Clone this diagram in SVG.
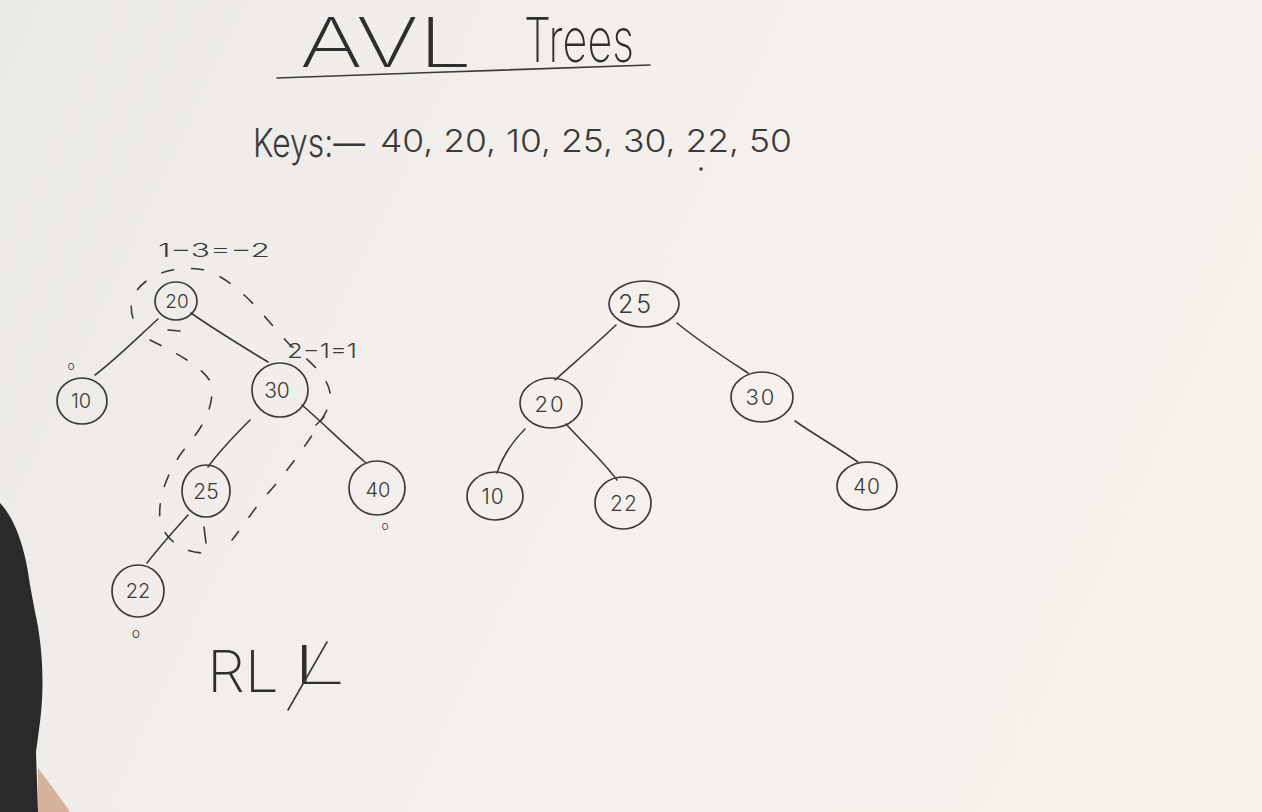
<svg xmlns="http://www.w3.org/2000/svg" width="1262" height="812" viewBox="0 0 1262 812">
<defs>
<linearGradient id="bg" x1="0" y1="0" x2="1" y2="0.3">
<stop offset="0" stop-color="#ebe9e6"/>
<stop offset="0.5" stop-color="#f3f0ec"/>
<stop offset="1" stop-color="#f7f2ec"/>
</linearGradient>
<style>
.ink{fill:none;stroke:#3a3a3a;stroke-width:1.6;stroke-linecap:round;stroke-linejoin:round}
.node{fill:none;stroke:#3a3a3a;stroke-width:1.7}
.dash{fill:none;stroke:#3a3a3a;stroke-width:1.6;stroke-linecap:round;stroke-dasharray:12 18}
.lbl{font-family:Inter,"Liberation Sans",sans-serif;font-weight:300;fill:#3a3a3a;text-anchor:middle}
.note{font-family:Inter,"Liberation Sans",sans-serif;font-weight:300;fill:#3a3a3a}
.hand{font-family:Inter,"Liberation Sans",sans-serif;font-weight:200;fill:#2e2e2e}
</style>
</defs>
<rect width="1262" height="812" fill="url(#bg)"/>
<!-- person at the left edge -->
<path d="M0,503 C14,518 25,545 30,585 L35,612 C42,642 45,682 40,722 L36,752 L38,812 L0,812 Z" fill="#2b2a2a"/>
<path d="M38,768 C50,784 62,800 70,812 L38,812 Z" fill="#d4b29c"/>

<!-- title -->
<g id="title">
<text class="hand" x="300" y="67" font-size="69" textLength="172" lengthAdjust="spacingAndGlyphs">AVL</text>
<text class="hand" x="524" y="62" font-size="62" textLength="110" lengthAdjust="spacingAndGlyphs">Trees</text>
<path class="ink" d="M277,78 C400,73 530,70 650,65" stroke-width="2.2"/>
</g>

<g id="keys">
<text class="note" x="253" y="157" font-size="40" textLength="112" lengthAdjust="spacingAndGlyphs">Keys:—</text>
<text class="note" x="380" y="152" font-size="31" textLength="412" lengthAdjust="spacingAndGlyphs">40, 20, 10, 25, 30, 22, 50</text>
<circle cx="701" cy="169" r="1.8" fill="#3a3a3a"/>
</g>

<!-- connectors -->
<g id="connectors">
<path class="ink" d="M158,319 C135,340 115,360 95,375"/>
<path class="ink" d="M191,313 C215,330 245,348 268,362"/>
<path class="ink" d="M250,420 C235,435 220,450 208,467"/>
<path class="ink" d="M302,405 C325,425 345,445 365,462"/>
<path class="ink" d="M316,425 L324,417"/>
<path class="ink" d="M188,515 C170,535 157,550 147,563"/>

<path class="ink" d="M616,325 C595,345 575,362 555,380"/>
<path class="ink" d="M677,323 C700,342 725,358 748,373"/>
<path class="ink" d="M525,429 C512,442 502,458 497,473"/>
<path class="ink" d="M566,424 C585,445 602,460 617,480"/>
<path class="ink" d="M795,421 C815,435 838,448 858,462"/>
</g>

<!-- dashed enclosures and notes -->
<g id="annotations">
<path class="dash" d="M133,318 C122,285 165,262 205,270 C240,282 262,315 290,345 C315,365 338,385 328,408 C312,440 280,480 262,500 C250,515 240,530 232,540"/>
<path class="dash" d="M150,340 C180,355 205,368 212,385 C214,420 190,440 180,455 C165,478 158,500 160,520 C165,545 195,558 212,551"/>
<path class="ink" d="M204,527 L206,543"/>
<path class="ink" d="M168,330 L180,331" stroke-width="3.2"/>
<text class="note" x="158" y="257" font-size="18" textLength="112" lengthAdjust="spacingAndGlyphs">1−3=−2</text>
<text class="note" x="287" y="358" font-size="20" textLength="70" lengthAdjust="spacingAndGlyphs">2−1=1</text>
<text class="lbl" x="71" y="370" font-size="12">o</text>
<text class="lbl" x="385" y="530" font-size="12">o</text>
<text class="lbl" x="136" y="638" font-size="14">o</text>
<text class="hand" x="207" y="692" font-size="58" textLength="72" lengthAdjust="spacingAndGlyphs">RL</text>
<text class="hand" x="292" y="684" font-size="54" textLength="54" lengthAdjust="spacingAndGlyphs">L</text>
<path class="ink" d="M327,642 L288,710" stroke-width="2"/>
</g>

<!-- left tree -->
<g id="L20"><ellipse class="node" cx="176" cy="301" rx="21" ry="19"/><text class="lbl" x="177" y="308" font-size="19">20</text></g>
<g id="L10"><ellipse class="node" cx="82" cy="401" rx="25" ry="23"/><text class="lbl" x="81" y="408" font-size="20">10</text></g>
<g id="L30"><ellipse class="node" cx="280" cy="390" rx="28" ry="27"/><text class="lbl" x="277" y="398" font-size="21">30</text></g>
<g id="L25"><ellipse class="node" cx="206" cy="491" rx="24" ry="26"/><text class="lbl" x="206" y="499" font-size="21">25</text></g>
<g id="L40"><ellipse class="node" cx="377" cy="488" rx="28" ry="27"/><text class="lbl" x="378" y="497" font-size="20">40</text></g>
<g id="L22"><ellipse class="node" cx="138" cy="591" rx="26" ry="26"/><text class="lbl" x="138" y="598" font-size="20">22</text></g>

<!-- right tree -->
<g id="R25"><ellipse class="node" cx="644" cy="304" rx="35" ry="23"/><text class="lbl" x="636" y="313" font-size="25" letter-spacing="3">25</text></g>
<g id="R20"><ellipse class="node" cx="551" cy="403" rx="31" ry="25"/><text class="lbl" x="550" y="412" font-size="22" letter-spacing="2">20</text></g>
<g id="R30"><ellipse class="node" cx="762" cy="397" rx="31" ry="25"/><text class="lbl" x="761" y="405" font-size="22" letter-spacing="2">30</text></g>
<g id="R10"><ellipse class="node" cx="495" cy="496" rx="28" ry="24"/><text class="lbl" x="493" y="504" font-size="21" letter-spacing="1">10</text></g>
<g id="R22"><ellipse class="node" cx="623" cy="503" rx="28" ry="26"/><text class="lbl" x="624" y="511" font-size="21" letter-spacing="1">22</text></g>
<g id="R40"><ellipse class="node" cx="867" cy="486" rx="30" ry="24"/><text class="lbl" x="867" y="494" font-size="21" letter-spacing="1">40</text></g>
</svg>
